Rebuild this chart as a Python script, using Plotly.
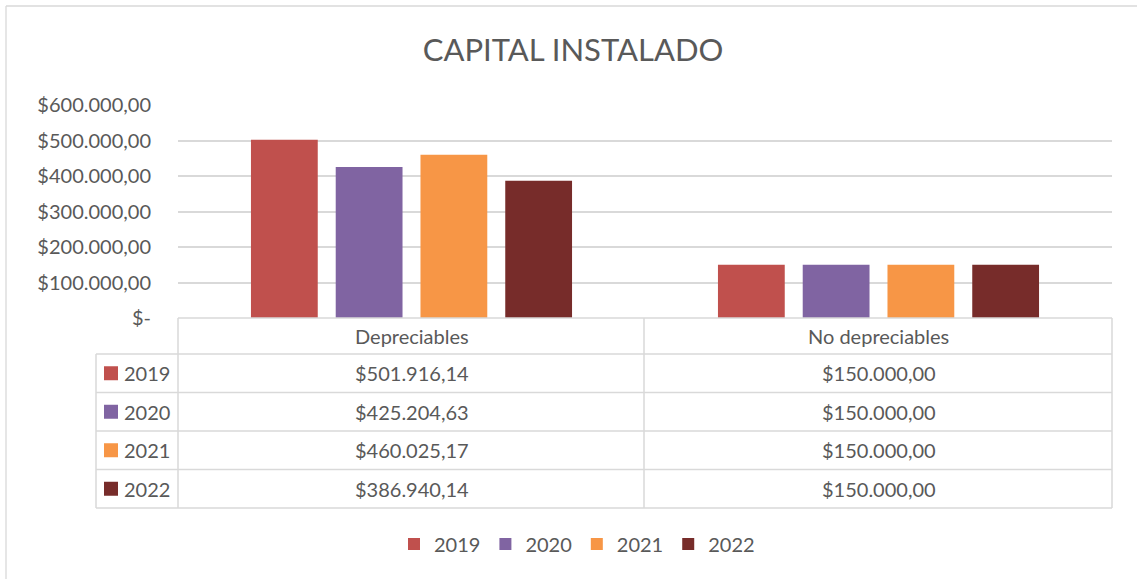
import plotly.graph_objects as go

categories = ["Depreciables", "No depreciables"]
years = ["2019", "2020", "2021", "2022"]
values_2019 = [501916.14, 150000.00]
values_2020 = [425204.63, 150000.00]
values_2021 = [460025.17, 150000.00]
values_2022 = [386940.14, 150000.00]
series_values = [values_2019, values_2020, values_2021, values_2022]
colors = ["#C0504D", "#8064A2", "#F79646", "#772C2A"]
tick_vals = [0, 100000, 200000, 300000, 400000, 500000, 600000]
tick_text = ["$-", "$100.000,00", "$200.000,00", "$300.000,00",
             "$400.000,00", "$500.000,00", "$600.000,00"]
title_text = "CAPITAL INSTALADO"


def fmt_money(v):
    s = f"{v:,.2f}"
    s = s.replace(",", "X").replace(".", ",").replace("X", ".")
    return "$" + s


W, H = 1137, 579
PL, PR, PT, PB = 178, 1112, 105, 318  # plot area in pixels
FONT = "Lato"
FS = 20
TXT = "#595959"
GRID = "#D9D9D9"


def px_x(p):
    return (p - PL) / (PR - PL)


def px_y(p):
    return (PB - p) / (PB - PT)


fig = go.Figure()
for yr, vals, col in zip(years, series_values, colors):
    fig.add_trace(go.Bar(x=categories, y=vals, name=yr, marker_color=col,
                         marker_line_width=0, hoverinfo="y+name"))

shapes = []
annotations = []

# Outer chart border
shapes.append(dict(type="line", xref="paper", yref="paper",
                   x0=px_x(6), x1=px_x(1140), y0=px_y(6), y1=px_y(6),
                   line=dict(color="#D9D9D9", width=1.3)))
shapes.append(dict(type="line", xref="paper", yref="paper",
                   x0=px_x(6), x1=px_x(6), y0=px_y(6), y1=px_y(585),
                   line=dict(color="#D9D9D9", width=1.3)))

# Data table geometry
header_top = 318
header_bot = 354
row_h = 38.5
left_x = 96
mid_x = 644
row_lines = [header_bot + i * row_h for i in range(len(years) + 1)]
table_bot = row_lines[-1]
line_style = dict(color=GRID, width=1.5)

# horizontal lines
shapes.append(dict(type="line", xref="paper", yref="paper",
                   x0=px_x(PL), x1=px_x(PR), y0=px_y(header_top), y1=px_y(header_top),
                   line=line_style))
for yl in row_lines:
    shapes.append(dict(type="line", xref="paper", yref="paper",
                       x0=px_x(left_x), x1=px_x(PR), y0=px_y(yl), y1=px_y(yl),
                       line=line_style))
# vertical lines
for xl in [PL, mid_x, PR]:
    shapes.append(dict(type="line", xref="paper", yref="paper",
                       x0=px_x(xl), x1=px_x(xl), y0=px_y(header_top), y1=px_y(table_bot),
                       line=line_style))
shapes.append(dict(type="line", xref="paper", yref="paper",
                   x0=px_x(left_x), x1=px_x(left_x), y0=px_y(header_bot), y1=px_y(table_bot),
                   line=line_style))

# header texts
for i, cat in enumerate(categories):
    annotations.append(dict(text=cat, xref="x", yref="paper", x=i,
                            y=px_y((header_top + header_bot) / 2), showarrow=False,
                            xanchor="center", yanchor="middle",
                            font=dict(family=FONT, size=FS, color=TXT)))
# rows
for r, (yr, vals, col) in enumerate(zip(years, series_values, colors)):
    yc = (row_lines[r] + row_lines[r + 1]) / 2
    shapes.append(dict(type="rect", xref="paper", yref="paper",
                       x0=px_x(104), x1=px_x(118), y0=px_y(yc - 7), y1=px_y(yc + 7),
                       fillcolor=col, line=dict(width=0)))
    annotations.append(dict(text=yr, xref="paper", yref="paper", x=px_x(122),
                            y=px_y(yc), showarrow=False, xanchor="left", yanchor="middle",
                            font=dict(family=FONT, size=FS, color=TXT)))
    for i, v in enumerate(vals):
        annotations.append(dict(text=fmt_money(v), xref="x", yref="paper", x=i,
                                y=px_y(yc), showarrow=False, xanchor="center",
                                yanchor="middle",
                                font=dict(family=FONT, size=FS, color=TXT)))

fig.update_layout(
    width=W, height=H,
    margin=dict(l=PL, r=W - PR, t=PT, b=H - PB, pad=0),
    paper_bgcolor="white", plot_bgcolor="white",
    title=dict(text=title_text, x=573 / W, xanchor="center", xref="container",
               y=1 - 50 / H, yanchor="middle", yref="container",
               font=dict(family=FONT, size=31, color=TXT)),
    barmode="group", bargap=0.274, bargroupgap=0.212,
    font=dict(family=FONT, size=FS, color=TXT),
    xaxis=dict(range=[-0.5, 1.5], showticklabels=False, showgrid=False,
               zeroline=False, showline=False, ticks=""),
    yaxis=dict(range=[0, 600000], tickvals=tick_vals, ticktext=tick_text,
               showgrid=True, gridcolor=GRID, gridwidth=1.5, zeroline=False,
               showline=False, ticks="", ticklabelstandoff=26,
               tickfont=dict(family=FONT, size=FS, color=TXT)),
    legend=dict(orientation="h", xref="container", yref="container",
                x=577 / W, xanchor="center", y=1 - 544 / H, yanchor="middle",
                font=dict(family=FONT, size=FS, color=TXT),
                itemwidth=30, tracegroupgap=0),
    shapes=shapes, annotations=annotations,
)

fig.write_html("out.html", config={"displayModeBar": False},
               post_script="document.body.style.margin='0';")
